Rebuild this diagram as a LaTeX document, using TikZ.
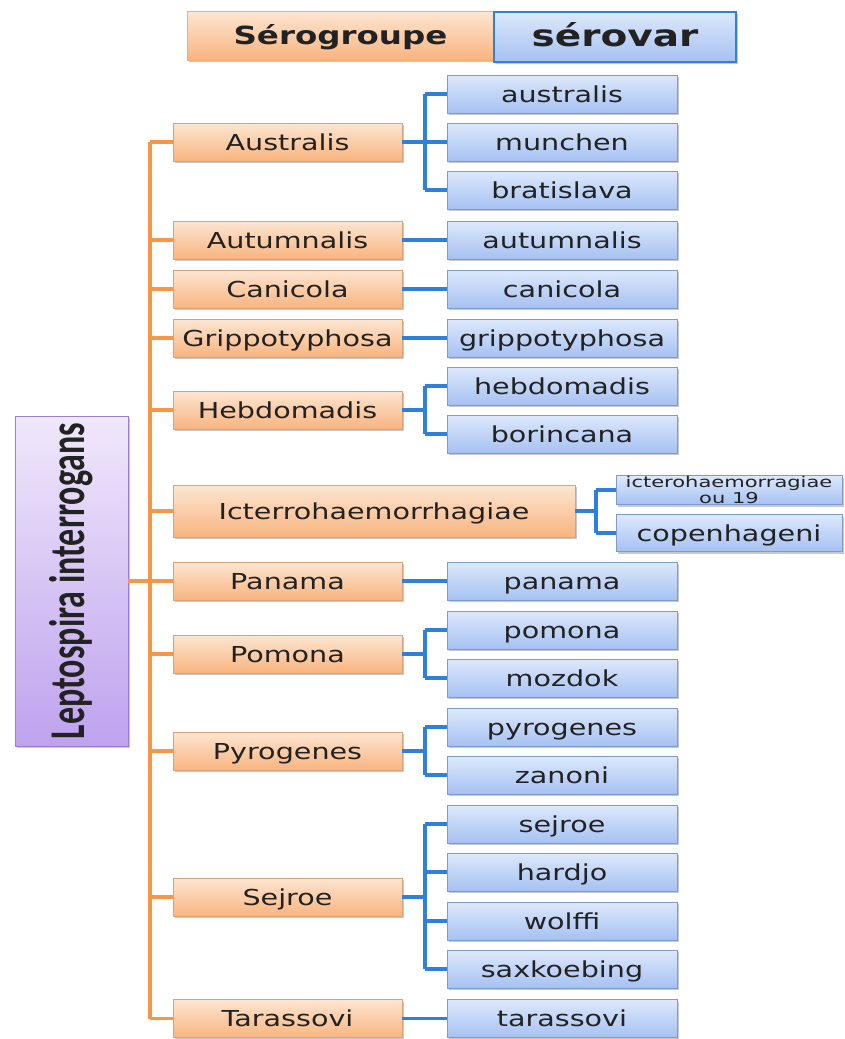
\documentclass[tikz,border=0pt]{standalone}
\usepackage{fontspec}
\usepackage{graphicx}
\usetikzlibrary{shadows}
\newfontfamily\lab[FakeStretch=1.3]{DejaVu Sans}
\newfontfamily\labsmall[FakeStretch=1.4]{DejaVu Sans}
\newfontfamily\rootfont[FakeStretch=0.68]{Carlito}
\definecolor{orline}{HTML}{F79646}
\definecolor{ortop}{HTML}{FDE6D2}
\definecolor{orbot}{HTML}{F9B47F}
\definecolor{ordraw}{HTML}{D9A27A}
\definecolor{bltop}{HTML}{DDE9FC}
\definecolor{blbot}{HTML}{A6C1F2}
\definecolor{bldraw}{HTML}{7D9BCB}
\definecolor{blline}{HTML}{2F80DC}
\definecolor{putop}{HTML}{F0E8FB}
\definecolor{pubot}{HTML}{BEA2EE}
\definecolor{pudraw}{HTML}{9A7FCF}
\definecolor{txt}{HTML}{222222}
\begin{document}
\begin{tikzpicture}[x=1pt,y=-1pt,
  shad/.style={drop shadow={shadow xshift=1.5pt,shadow yshift=-2pt,opacity=0.3,fill=black!70}},
  sg/.style={shad,draw=ordraw,line width=0.8pt,top color=ortop,bottom color=orbot,
    minimum width=229pt,minimum height=38pt,inner sep=0pt,text=txt,
    text height=18pt,text depth=2pt,
    font=\lab\fontsize{22}{24}\selectfont},
  sv/.style={shad,draw=bldraw,line width=0.8pt,top color=bltop,bottom color=blbot,
    minimum width=230pt,minimum height=38pt,inner sep=0pt,text=txt,
    text height=18pt,text depth=2pt,
    font=\lab\fontsize{22}{24}\selectfont},
  trunk/.style={orline,line width=3.5pt},
  bl/.style={blline,line width=3.5pt}]
\useasboundingbox (0,0) rectangle (844,1039);
% header
\node[sg,draw=orline!80,minimum width=307pt,minimum height=49pt,text height=20pt,text depth=2pt,font=\lab\bfseries\fontsize{25}{27}\selectfont] (hsg) at (340.5,35.5) {Sérogroupe};
\node[sv,draw=blline,line width=2pt,minimum width=242pt,minimum height=50pt,text height=22pt,text depth=2pt,font=\lab\bfseries\fontsize{30}{32}\selectfont] (hsv) at (615,36.5) {sérovar};
% root
\node[shad,draw=pudraw,line width=0.8pt,top color=putop,bottom color=pubot,minimum width=113pt,minimum height=330pt,inner sep=0pt,text=txt] (root) at (71.5,581)
  {\rotatebox{90}{\rootfont\bfseries\fontsize{50}{52}\selectfont Leptospira interrogans}};
% serogroups
\node[sg] (aus) at (287.5,142) {Australis};
\node[sg] (aut) at (287.5,240) {Autumnalis};
\node[sg] (can) at (287.5,289) {Canicola};
\node[sg] (gri) at (287.5,338) {Grippotyphosa};
\node[sg] (heb) at (287.5,410) {Hebdomadis};
\node[sg,minimum width=402pt,minimum height=52pt] (ict) at (374,511) {Icterrohaemorrhagiae};
\node[sg] (pan) at (287.5,581) {Panama};
\node[sg] (pom) at (287.5,654) {Pomona};
\node[sg] (pyr) at (287.5,751) {Pyrogenes};
\node[sg] (sej) at (287.5,897) {Sejroe};
\node[sg] (tar) at (287.5,1018.5) {Tarassovi};
% serovars
\node[sv] (v1) at (562,94) {australis};
\node[sv] (v2) at (562,142) {munchen};
\node[sv] (v3) at (562,190) {bratislava};
\node[sv] (v4) at (562,240) {autumnalis};
\node[sv] (v5) at (562,289) {canicola};
\node[sv] (v6) at (562,338) {grippotyphosa};
\node[sv] (v7) at (562,386) {hebdomadis};
\node[sv] (v8) at (562,434) {borincana};
\node[sv,text height={},text depth={},minimum width=226pt,minimum height=29pt,font=\labsmall\fontsize{15}{14}\selectfont,align=center] (v9) at (729,490) {icterohaemorragiae\\ou 19};
\node[sv,minimum width=226pt,minimum height=37pt] (v10) at (729,533) {copenhageni};
\node[sv] (v11) at (562,581) {panama};
\node[sv] (v12) at (562,630) {pomona};
\node[sv] (v13) at (562,678) {mozdok};
\node[sv] (v14) at (562,727) {pyrogenes};
\node[sv] (v15) at (562,775) {zanoni};
\node[sv] (v16) at (562,824) {sejroe};
\node[sv] (v17) at (562,872) {hardjo};
\node[sv] (v18) at (562,921) {wolffi};
\node[sv] (v19) at (562,969) {saxkoebing};
\node[sv] (v20) at (562,1018.5) {tarassovi};
% trunk
\coordinate (T) at (150,0);
\coordinate (B) at (425,0);
\coordinate (B2) at (596,0);
\draw[trunk] (T |- aus.west) -- (T |- tar.west);
\draw[trunk] (root.east) -- (T |- root.east);
\foreach \n in {aus,aut,can,gri,heb,ict,pan,pom,pyr,sej,tar}
  \draw[trunk] (T |- \n.west) -- (\n.west);
% blue connectors
\draw[bl] (aus.east) -- (B |- aus.east);
\draw[bl] (B |- v1.west) -- (B |- v3.west);
\foreach \n in {v1,v2,v3} \draw[bl] (B |- \n.west) -- (\n.west);
\draw[bl] (aut.east) -- (v4.west);
\draw[bl] (can.east) -- (v5.west);
\draw[bl] (gri.east) -- (v6.west);
\draw[bl] (heb.east) -- (B |- heb.east);
\draw[bl] (B |- v7.west) -- (B |- v8.west);
\foreach \n in {v7,v8} \draw[bl] (B |- \n.west) -- (\n.west);
\draw[bl] (ict.east) -- (B2 |- ict.east);
\draw[bl] (B2 |- v9.west) -- (B2 |- v10.west);
\foreach \n in {v9,v10} \draw[bl] (B2 |- \n.west) -- (\n.west);
\draw[bl] (pan.east) -- (v11.west);
\draw[bl] (pom.east) -- (B |- pom.east);
\draw[bl] (B |- v12.west) -- (B |- v13.west);
\foreach \n in {v12,v13} \draw[bl] (B |- \n.west) -- (\n.west);
\draw[bl] (pyr.east) -- (B |- pyr.east);
\draw[bl] (B |- v14.west) -- (B |- v15.west);
\foreach \n in {v14,v15} \draw[bl] (B |- \n.west) -- (\n.west);
\draw[bl] (sej.east) -- (B |- sej.east);
\draw[bl] (B |- v16.west) -- (B |- v19.west);
\foreach \n in {v16,v17,v18,v19} \draw[bl] (B |- \n.west) -- (\n.west);
\draw[bl] (tar.east) -- (v20.west);
\end{tikzpicture}
\end{document}
